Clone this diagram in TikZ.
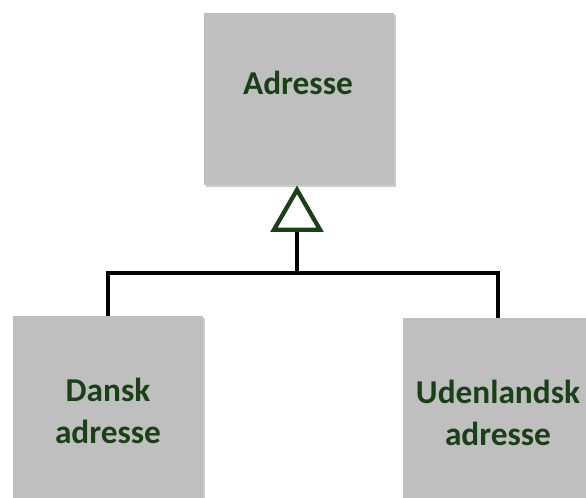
\documentclass[tikz,border=0pt]{standalone}
\usepackage{fontspec}
\setmainfont{Carlito}
\usetikzlibrary{shapes.geometric,shadows,positioning}
\definecolor{boxgray}{RGB}{191,191,191}
\definecolor{textgreen}{RGB}{26,64,24}

\begin{document}
\begin{tikzpicture}[
		x=0.75pt, y=-0.75pt,
		every node/.style={font=\fontsize{25}{31.5}\selectfont\bfseries, text=textgreen, align=center},
		box/.style={rectangle, fill=boxgray, minimum width=142.5pt, inner sep=0pt,
			drop shadow={shadow xshift=1.8pt, shadow yshift=-1.8pt, opacity=0.4}},
		gen/.style={regular polygon, regular polygon sides=3, draw=textgreen, line width=3.2pt,
			fill=white, minimum size=40pt, inner sep=0pt},
		link/.style={line width=3.5pt}
	]
  \useasboundingbox (0,0) rectangle (586,497);
  \clip (0,0) rectangle (586,497);
  \node (adresse) [box, minimum height=129pt] at (298.5,99) {};
  \node (adresse_label) at (298,83) {Adresse};
  \node (dansk) [box, minimum height=142.5pt] at (108,411) {Dansk\\adresse};
  \node (udenlandsk) [box, minimum height=142.5pt] at (498,413) {Udenlandsk\\adresse};
  \coordinate (split) at (295,273);
  \draw[link] (dansk.north) -- (dansk.north |- split) -- (udenlandsk.north |- split) -- (udenlandsk.north);
  \node (gen) [gen] at (297,216.5) {};
  \draw[link] (gen.south) -- (gen.south |- split);
\end{tikzpicture}
\end{document}
